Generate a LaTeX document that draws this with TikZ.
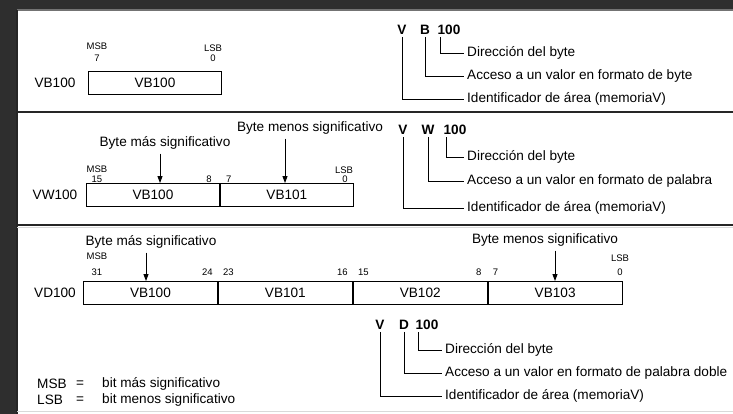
\documentclass[tikz,border=0pt]{standalone}
\usepackage{fontspec}
\setmainfont{Liberation Sans}
\usetikzlibrary{arrows.meta,positioning}

\tikzset{
  txt/.style={font=\fontsize{13.6}{16}\selectfont, inner sep=0pt},
  addr/.style={font=\bfseries\fontsize{13.6}{16}\selectfont, inner sep=0pt},
  small/.style={font=\fontsize{9.5}{11}\selectfont, inner sep=0pt},
  cell/.style={draw, line width=0.9pt, minimum width=133pt, minimum height=23pt,
    inner sep=0pt, anchor=west, font=\fontsize{13.6}{16}\selectfont},
  pointer/.style={line width=0.9pt, -{Triangle[width=5pt,length=7pt]}},
  bracket/.style={line width=0.9pt},
  sep/.style={line width=1.4pt, draw=black!85},
}

\begin{document}
\begin{tikzpicture}[x=1pt, y=-1pt]

    % Frame and background
    \useasboundingbox (0,0) rectangle (733,414);
    \fill[black!82] (0,0) rectangle (733,414);
    \fill[white] (17,10) rectangle (733,414);
    \draw[black!55, line width=1.2pt] (17,10) -- (733,10);
    \draw[sep] (17,10) -- (17,414);
    \draw[sep] (17,112) -- (733,112);
    \draw[sep] (17,225) -- (733,225);
    \draw[black!15, line width=1pt] (17,227) -- (733,227);
    \draw[black!15, line width=1pt] (17,411) -- (733,411);

    % Byte VB100
    \node[txt] (rowb) at (55,82.5) {VB100};
    \node[cell] (b1) at (88,82.5) {VB100};
    \node[small] (bmsb) at (97,46) {MSB};
    \node[small] (b7) at (97,58) {7};
    \node[small] (blsb) at (213,48) {LSB};
    \node[small] (b0) at (213,58) {0};

    \node[addr] (bv) at (402,30) {V};
    \node[addr] (bb) at (425,30) {B};
    \node[addr] (bn) at (449,30) {100};
    \node[txt, anchor=west] (bdir) at (467,53) {Dirección del byte};
    \node[txt, anchor=west] (bacc) at (467,76) {Acceso a un valor en formato de byte};
    \node[txt, anchor=west] (bid) at (467,99) {Identificador de área (memoriaV)};
    \draw[bracket] ([xshift=3pt,yshift=-2pt]bn.south west) |- ([xshift=-3pt]bdir.west);
    \draw[bracket] ([yshift=-2pt]bb.south) |- ([xshift=-3pt]bacc.west);
    \draw[bracket] ([yshift=-2pt]bv.south) |- ([xshift=-3pt]bid.west);

    % Word VW100
    \node[txt] (roww) at (55,195) {VW100};
    \node[cell] (w1) at (86,195) {VB100};
    \node[cell] (w2) at (w1.east) {VB101};
    \node[small] (wmsb) at (97,169) {MSB};
    \node[small] (w15) at (97,179.5) {15};
    \node[small, anchor=east] (w8) at ([xshift=-8pt]w1.east |- w15) {8};
    \node[small, anchor=west] (w7) at ([xshift=6pt]w1.east |- w15) {7};
    \node[small] (wlsb) at (344,170) {LSB};
    \node[small] (w0) at (345,179.5) {0};

    \node[txt] (wmenos) at (310,128) {Byte menos significativo};
    \node[txt] (wmas) at (165,143) {Byte más significativo};
    \draw[pointer] ([xshift=-5pt,yshift=-4pt]wmas.south) -- ([xshift=-5pt]wmas.south |- w1.north);
    \draw[pointer] ([xshift=-25pt,yshift=-4pt]wmenos.south) -- ([xshift=-25pt]wmenos.south |- w2.north);

    \node[addr] (wv) at (403,130) {V};
    \node[addr] (ww) at (428,130) {W};
    \node[addr] (wn) at (455,130) {100};
    \node[txt, anchor=west] (wdir) at (467,157) {Dirección del byte};
    \node[txt, anchor=west] (wacc) at (467,181) {Acceso a un valor en formato de palabra};
    \node[txt, anchor=west] (wid) at (467,208) {Identificador de área (memoriaV)};
    \draw[bracket] ([xshift=3pt,yshift=-2pt]wn.south west) |- ([xshift=-3pt]wdir.west);
    \draw[bracket] ([yshift=-2pt]ww.south) |- ([xshift=-3pt]wacc.west);
    \draw[bracket] ([yshift=-2pt]wv.south) |- ([xshift=-3pt]wid.west);

    % Double word VD100
    \node[txt] (rowd) at (55,293) {VD100};
    \node[cell, minimum width=134pt] (d1) at (83,293) {VB100};
    \node[cell, minimum width=134pt] (d2) at (d1.east) {VB101};
    \node[cell, minimum width=134pt] (d3) at (d2.east) {VB102};
    \node[cell, minimum width=134pt] (d4) at (d3.east) {VB103};
    \node[small] (dmsb) at (97,256) {MSB};
    \node[small] (d31) at (97,272) {31};
    \node[small, anchor=east] (d24) at ([xshift=-5pt]d1.east |- d31) {24};
    \node[small, anchor=west] (d23) at ([xshift=5pt]d1.east |- d31) {23};
    \node[small, anchor=east] (d16) at ([xshift=-5pt]d2.east |- d31) {16};
    \node[small, anchor=west] (d15) at ([xshift=5pt]d2.east |- d31) {15};
    \node[small, anchor=east] (d8) at ([xshift=-6pt]d3.east |- d31) {8};
    \node[small, anchor=west] (d7) at ([xshift=5pt]d3.east |- d31) {7};
    \node[small] (dlsb) at (620,258) {LSB};
    \node[small] (d0) at (620,272) {0};

    \node[txt] (dmas) at (151,242) {Byte más significativo};
    \node[txt] (dmenos) at (545,240) {Byte menos significativo};
    \draw[pointer] ([xshift=-5pt,yshift=-4pt]dmas.south) -- ([xshift=-5pt]dmas.south |- d1.north);
    \draw[pointer] ([xshift=10pt,yshift=-4pt]dmenos.south) -- ([xshift=10pt]dmenos.south |- d4.north);

    \node[addr] (dv) at (380,325) {V};
    \node[addr] (dd) at (404,325) {D};
    \node[addr] (dn) at (427,325) {100};
    \node[txt, anchor=west] (ddir) at (445,350) {Dirección del byte};
    \node[txt, anchor=west] (dacc) at (445,373) {Acceso a un valor en formato de palabra doble};
    \node[txt, anchor=west] (did) at (445,396) {Identificador de área (memoriaV)};
    \draw[bracket] ([xshift=3pt,yshift=-2pt]dn.south west) |- ([xshift=-3pt]ddir.west);
    \draw[bracket] ([yshift=-2pt]dd.south) |- ([xshift=-3pt]dacc.west);
    \draw[bracket] ([yshift=-2pt]dv.south) |- ([xshift=-3pt]did.west);

    % Legend
    \node[txt, anchor=west] (lmsb) at (37,384) {MSB};
    \node[txt] (lmeq) at (80,384) {=};
    \node[txt, anchor=west] (lmtxt) at (102,384) {bit más significativo};
    \node[txt, anchor=west] (llsb) at (37,400) {LSB};
    \node[txt] (lleq) at (80,400) {=};
    \node[txt, anchor=west] (lltxt) at (102,400) {bit menos significativo};

\end{tikzpicture}
\end{document}
